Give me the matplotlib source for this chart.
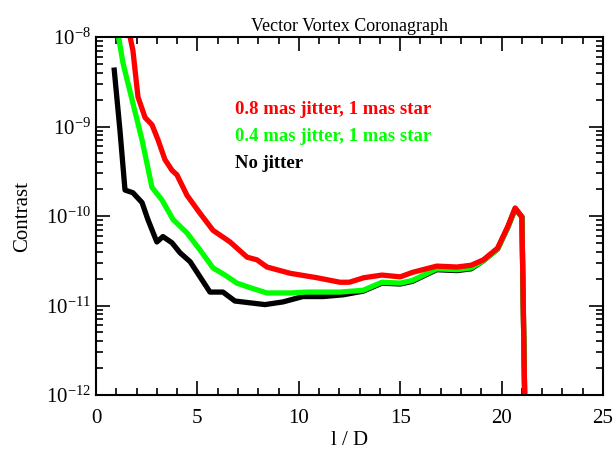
import matplotlib
matplotlib.use("Agg")
import matplotlib.pyplot as plt
from matplotlib.ticker import LogLocator, MultipleLocator, NullFormatter

# shared tail (x, log10 contrast)
tail_x = [13.17, 14.1, 15.0, 15.6, 16.8, 17.8, 18.5, 19.1, 19.8, 20.3, 20.67, 21.0, 21.15]

black_x = [0.9, 1.18, 1.43, 1.82, 2.27, 2.56, 3.0, 3.3, 3.75, 4.14, 4.64, 5.13, 5.62,
           6.26, 6.85, 7.59, 8.33, 9.22, 10.2, 11.2, 12.2]
black_log = [-8.37, -9.04, -9.71, -9.74, -9.85, -10.04, -10.29, -10.23, -10.30, -10.41,
             -10.51, -10.68, -10.85, -10.85, -10.95, -10.97, -10.99, -10.96, -10.90,
             -10.90, -10.88]
black_tail = [-10.84, -10.75, -10.76, -10.73, -10.60, -10.61, -10.59, -10.50, -10.37,
              -10.13, -9.92, -10.01, -12.2]

green_x = [1.0, 1.33, 1.82, 2.27, 2.76, 3.25, 3.80, 4.49, 5.13, 5.77, 6.36, 6.95, 7.59,
           8.43, 9.57, 10.4, 12.03]
green_log = [-7.85, -8.29, -8.74, -9.15, -9.68, -9.82, -10.04, -10.19, -10.38, -10.58,
             -10.66, -10.75, -10.80, -10.86, -10.86, -10.85, -10.85]
green_tail = [-10.83, -10.74, -10.75, -10.72, -10.59, -10.60, -10.58, -10.50, -10.37,
              -10.13, -9.92, -10.01, -12.2]

red_x = [1.0, 1.5, 1.82, 2.07, 2.42, 2.76, 3.06, 3.40, 3.75, 3.99, 4.49, 5.13, 5.77,
         6.61, 7.45, 7.94, 8.43, 9.57, 10.9, 12.03, 12.5]
red_log = [-7.3, -7.8, -8.15, -8.67, -8.90, -8.98, -9.15, -9.37, -9.49, -9.54, -9.77,
           -9.97, -10.16, -10.29, -10.46, -10.49, -10.57, -10.64, -10.69, -10.74, -10.74]
red_tail_x = [13.2, 14.1, 15.0, 15.6, 16.8, 17.8, 18.5, 19.1, 19.8, 20.3, 20.67, 21.0, 21.15]
red_tail = [-10.69, -10.66, -10.68, -10.63, -10.56, -10.57, -10.55, -10.49, -10.36,
            -10.12, -9.91, -10.01, -12.2]

labels = ["0.8 mas jitter, 1 mas star", "0.4 mas jitter, 1 mas star", "No jitter"]
colors = ["#ff0000", "#00ff00", "#000000"]

plt.rcParams['font.family'] = ['Liberation Serif', 'DejaVu Serif']
plt.rcParams['mathtext.fontset'] = 'custom'
plt.rcParams['mathtext.rm'] = 'Liberation Serif'

fig = plt.figure(figsize=(6.14, 4.53), dpi=100)
ax = fig.add_axes([96/614, 1 - 395/453, (603-96)/614, (395-37)/453])

def pw(v):
    return [10 ** a for a in v]

ax.plot(black_x + tail_x, pw(black_log + black_tail), color=colors[2], lw=3.8)
ax.plot(green_x + tail_x, pw(green_log + green_tail), color=colors[1], lw=3.8)
ax.plot(red_x + red_tail_x, pw(red_log + red_tail), color=colors[0], lw=3.8)

ax.set_yscale('log')
ax.set_xlim(0, 25)
ax.set_ylim(1e-12, 1e-8)
ax.xaxis.set_major_locator(MultipleLocator(5))
ax.xaxis.set_minor_locator(MultipleLocator(1))
ax.yaxis.set_major_locator(LogLocator(base=10, numticks=10))
ax.yaxis.set_minor_locator(LogLocator(base=10, subs=range(2, 10), numticks=20))
ax.yaxis.set_minor_formatter(NullFormatter())
ax.tick_params(which='both', direction='in', top=True, right=True, labelsize=15, width=1.2)
ax.tick_params(which='major', length=10)
ax.tick_params(which='minor', length=5)
ax.tick_params(axis='x', pad=10)
for s in ax.spines.values():
    s.set_linewidth(1.5)

ax.set_title("Vector Vortex Coronagraph", fontsize=13, pad=4)
ax.set_xlabel("l / D", fontsize=15, labelpad=2)
ax.set_ylabel("Contrast", fontsize=15, labelpad=10)

ys = [0.797, 0.722, 0.647]
for lab, c, yy in zip(labels, colors, ys):
    ax.text(0.274, yy, lab, transform=ax.transAxes, color=c, fontsize=13.5,
            fontweight='bold', va='center', ha='left')

fig.savefig("out.png", dpi=100)
